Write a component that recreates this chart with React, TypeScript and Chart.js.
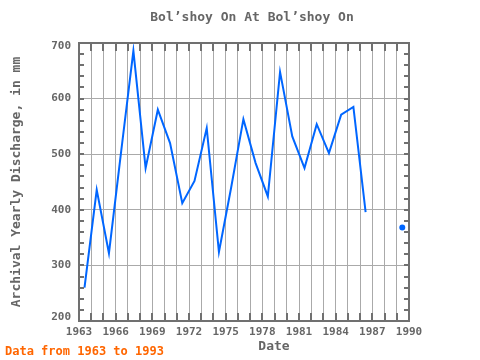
import React, { useEffect, useRef } from "react";
import { Chart, registerables } from "chart.js";

Chart.register(...registerables);

const years = [1963, 1964, 1965, 1966, 1967, 1968, 1969, 1970, 1971, 1972, 1973, 1974, 1975, 1976, 1977, 1978, 1979, 1980, 1981, 1982, 1983, 1984, 1985, 1986, 1987, 1988, 1989];
const discharge: (number | null)[] = [260, 436, 322, 505, 686, 475, 580, 520, 412, 452, 547, 324, 440, 563, 484, 424, 648, 532, 475, 554, 502, 571, 585, 396, null, null, 368];
const xTickLabels = [1963, 1966, 1969, 1972, 1975, 1978, 1981, 1984, 1987, 1990];
const yTickLabels = [200, 300, 400, 500, 600, 700];
const chartTitle = "Bol\u2019shoy On At Bol\u2019shoy On";
const xTitle = "Date";
const yTitle = "Archival Yearly Discharge, in mm";
const footerText = "Data from 1963 to 1993";
const yearOffset = 0.45;

const FONT = "'DejaVu Sans Mono', monospace";
const AXIS_COLOR = "#707070";
const GRID_COLOR = "#aaaaaa";
const TEXT_COLOR = "#666666";
const LINE_COLOR = "#0066ff";

export default function App() {
  const ref = useRef<HTMLCanvasElement | null>(null);

  useEffect(() => {
    const canvas = ref.current;
    if (!canvas) return;

    const decor = {
      id: "decor",
      afterDraw(chart: any) {
        const { ctx, chartArea } = chart;
        const { left, right, top, bottom } = chartArea;
        const xs = chart.scales.x;
        const ys = chart.scales.y;
        ctx.save();
        ctx.strokeStyle = AXIS_COLOR;
        ctx.lineWidth = 2;
        // minor ticks
        for (let yr = 1963; yr <= 1990; yr++) {
          const px = Math.round(xs.getPixelForValue(yr));
          ctx.beginPath();
          ctx.moveTo(px, top);
          ctx.lineTo(px, top + 8);
          ctx.moveTo(px, bottom);
          ctx.lineTo(px, bottom - 8);
          ctx.stroke();
        }
        for (let v = 200; v <= 700; v += 20) {
          const py = Math.round(ys.getPixelForValue(v));
          ctx.beginPath();
          ctx.moveTo(left, py);
          ctx.lineTo(left + 5, py);
          ctx.moveTo(right, py);
          ctx.lineTo(right - 5, py);
          ctx.stroke();
        }
        ctx.strokeRect(left, top, right - left, bottom - top);

        // y tick labels (end labels kept inside the plot height)
        ctx.fillStyle = TEXT_COLOR;
        ctx.font = `bold 11px ${FONT}`;
        ctx.textAlign = "right";
        ctx.textBaseline = "middle";
        for (const v of yTickLabels) {
          let py = ys.getPixelForValue(v);
          py = Math.min(Math.max(py, top + 3), bottom - 4);
          ctx.fillText(String(v), 71, py);
        }

        // texts
        ctx.textAlign = "center";
        ctx.font = `bold 13px ${FONT}`;
        ctx.fillText(chartTitle, 252, 18);
        ctx.fillText(xTitle, 274, 347);
        ctx.save();
        ctx.translate(17, 182);
        ctx.rotate(-Math.PI / 2);
        ctx.fillText(yTitle, 0, 0);
        ctx.restore();
        ctx.textAlign = "left";
        ctx.fillStyle = "#ff6600";
        ctx.font = `bold 12px ${FONT}`;
        ctx.fillText(footerText, 5, 352);
        ctx.restore();
      },
    };

    const chart = new Chart(canvas, {
      type: "line",
      data: {
        datasets: [
          {
            data: years.map((y, i) => ({ x: y + yearOffset, y: discharge[i] as any })),
            borderColor: LINE_COLOR,
            backgroundColor: LINE_COLOR,
            borderWidth: 2,
            spanGaps: false,
            tension: 0,
            pointRadius: (c: any) => {
              const i = c.dataIndex;
              const cur = discharge[i];
              const prev = i > 0 ? discharge[i - 1] : null;
              const next = i < discharge.length - 1 ? discharge[i + 1] : null;
              return cur != null && prev == null && next == null ? 2 : 0;
            },
            pointHoverRadius: 0,
          },
        ],
      },
      options: {
        responsive: false,
        animation: false,
        events: [],
        layout: { padding: { top: 43, right: 71, left: 0, bottom: 0 } },
        plugins: {
          legend: { display: false },
          title: { display: false },
          tooltip: { enabled: false },
        },
        scales: {
          x: {
            type: "linear",
            min: 1963,
            max: 1990,
            afterFit: (s: any) => {
              s.height = 39;
            },
            border: { display: false },
            grid: { color: GRID_COLOR, lineWidth: 1, drawTicks: false },
            ticks: {
              stepSize: 1,
              autoSkip: false,
              maxRotation: 0,
              padding: 5,
              color: TEXT_COLOR,
              font: { family: FONT, size: 11, weight: "bold" },
              callback: (v: any) => (xTickLabels.includes(Number(v)) ? String(v) : ""),
            },
          },
          y: {
            type: "linear",
            min: 200,
            max: 700,
            afterFit: (s: any) => {
              s.width = 79;
            },
            border: { display: false },
            grid: {
              drawTicks: false,
              lineWidth: 1,
              color: (c: any) => (c.tick && c.tick.value % 100 === 0 ? GRID_COLOR : "rgba(0,0,0,0)"),
            },
            ticks: {
              stepSize: 20,
              autoSkip: false,
              padding: 8,
              color: TEXT_COLOR,
              font: { family: FONT, size: 11, weight: "bold" },
              callback: () => "",
            },
          },
        },
      },
      plugins: [decor],
    } as any);

    return () => chart.destroy();
  }, []);

  return (
    <div style={{ position: "absolute", left: 0, top: 0, width: 480, height: 360, background: "#fff" }}>
      <canvas ref={ref} width={480} height={360} style={{ width: 480, height: 360, display: "block" }} />
    </div>
  );
}
